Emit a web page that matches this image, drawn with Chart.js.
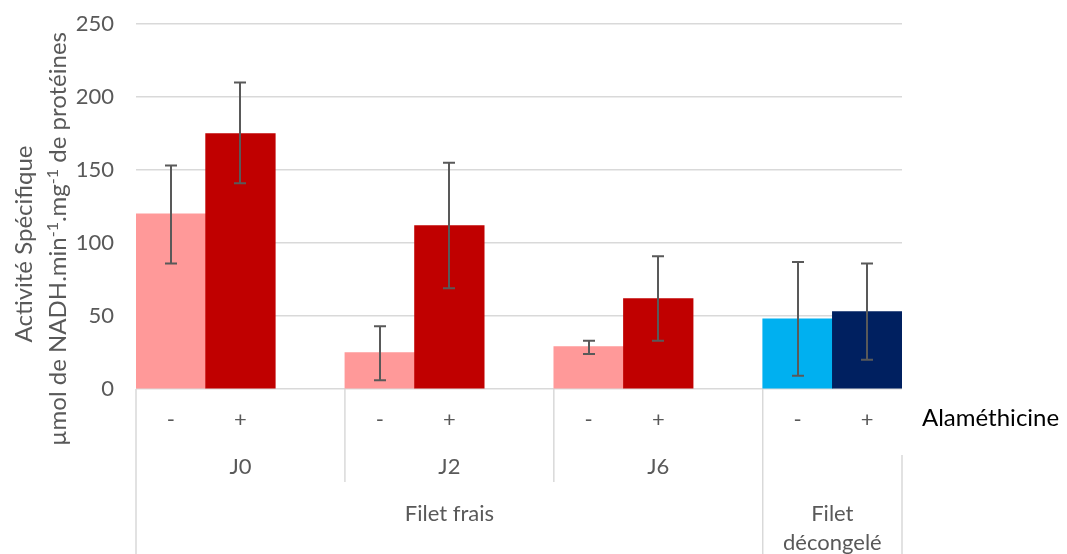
<!DOCTYPE html>
<html>
<head>
<meta charset="utf-8">
<script src="https://cdn.jsdelivr.net/npm/chart.js@4/dist/chart.umd.min.js"></script>
<style>
  html, body { margin: 0; padding: 0; background: #ffffff; }
  #wrap { width: 1067px; height: 554px; position: relative; }
</style>
</head>
<body>
<div id="wrap"><canvas id="c" width="1067" height="554"></canvas></div>
<script>
// ---- data ----
const alamethicine = ['-', '+', '', '-', '+', '', '-', '+', '', '-', '+'];
const activity     = [120, 175, null, 25, 112, null, 29, 62, null, 48, 53];
const errLow       = [86, 141, null, 6, 69, null, 24, 33, null, 9, 20];
const errHigh      = [153, 210, null, 43, 155, null, 33, 91, null, 87, 86];
const barColors    = ['#FF9999', '#C00000', null, '#FF9999', '#C00000', null, '#FF9999', '#C00000', null, '#00B0F0', '#002060'];
const dayLabels    = ['J0', 'J2', 'J6'];
const dayFirstSlot = [0, 3, 6];
const dayLastSlot  = [2, 5, 8];
const fishLabels   = [['Filet frais'], ['Filet', 'décongelé']];
const fishFirstSlot = [0, 9];
const fishLastSlot  = [8, 10];
const yTicks = [0, 50, 100, 150, 200, 250];
const axisTitle1 = 'Activité Spécifique';
const axisTitle2 = [['µmol de NADH.min', false], ['-1', true], ['.mg', false], ['-1', true], [' de protéines', false]];
const sideLabel = 'Alaméthicine';

const FONT = 'Lato, "Open Sans", sans-serif';
const GRAY = '#595959';
const LINE = '#d9d9d9';

Chart.defaults.font.family = FONT;

const overlay = {
  id: 'overlay',
  afterDatasetsDraw(chart) {
    const ctx = chart.ctx;
    const x = chart.scales.x, y = chart.scales.y;
    ctx.save();
    ctx.strokeStyle = GRAY;
    ctx.lineWidth = 2;
    for (let i = 0; i < activity.length; i++) {
      if (activity[i] == null) continue;
      const px = Math.round(x.getPixelForValue(i));
      const yl = y.getPixelForValue(errLow[i]);
      const yh = y.getPixelForValue(errHigh[i]);
      ctx.beginPath();
      ctx.moveTo(px, yl); ctx.lineTo(px, yh);
      ctx.moveTo(px - 6, yl); ctx.lineTo(px + 6, yl);
      ctx.moveTo(px - 6, yh); ctx.lineTo(px + 6, yh);
      ctx.stroke();
    }
    ctx.restore();
  },
  afterDraw(chart) {
    const ctx = chart.ctx;
    const x = chart.scales.x, y = chart.scales.y;
    const half = (x.getPixelForValue(1) - x.getPixelForValue(0)) / 2;
    const base = y.getPixelForValue(0);
    const bottom = chart.height;
    const left = (i) => x.getPixelForValue(i) - half;
    const right = (i) => x.getPixelForValue(i) + half;
    ctx.save();
    // multi-level category separators
    ctx.strokeStyle = LINE;
    ctx.lineWidth = 1.5;
    const vline = (px, y0, y1) => { ctx.beginPath(); ctx.moveTo(px, y0); ctx.lineTo(px, y1); ctx.stroke(); };
    vline(left(0), base, bottom);
    vline(left(dayFirstSlot[1]), base, 482);
    vline(left(dayFirstSlot[2]), base, 482);
    vline(left(fishFirstSlot[1]), base, bottom);
    vline(right(fishLastSlot[1]), 455, bottom);
    // labels
    ctx.fillStyle = GRAY;
    ctx.font = '22px ' + FONT;
    ctx.textAlign = 'center';
    ctx.textBaseline = 'middle';
    dayLabels.forEach((d, k) => {
      const cx = (left(dayFirstSlot[k]) + right(dayLastSlot[k])) / 2;
      ctx.fillText(d, cx, 467);
    });
    fishLabels.forEach((lines, k) => {
      const cx = (left(fishFirstSlot[k]) + right(fishLastSlot[k])) / 2;
      lines.forEach((t, j) => ctx.fillText(t, cx, 514 + j * 29));
    });
    // side label
    ctx.fillStyle = '#000000';
    ctx.font = '24px ' + FONT;
    ctx.textAlign = 'left';
    ctx.fillText(sideLabel, 922, 418);
    // y axis title
    ctx.fillStyle = GRAY;
    ctx.textBaseline = 'alphabetic';
    ctx.save();
    ctx.translate(32, 244);
    ctx.rotate(-Math.PI / 2);
    ctx.font = '24px ' + FONT;
    ctx.textAlign = 'center';
    ctx.fillText(axisTitle1, 0, 0);
    ctx.restore();
    ctx.save();
    ctx.translate(66, 239);
    ctx.rotate(-Math.PI / 2);
    ctx.textAlign = 'left';
    let total = 0;
    axisTitle2.forEach(([t, sup]) => { ctx.font = (sup ? '16px ' : '24px ') + FONT; total += ctx.measureText(t).width; });
    let cx = -total / 2;
    axisTitle2.forEach(([t, sup]) => {
      ctx.font = (sup ? '16px ' : '24px ') + FONT;
      ctx.fillText(t, cx, sup ? -8 : 0);
      cx += ctx.measureText(t).width;
    });
    ctx.restore();
    ctx.restore();
  }
};

new Chart(document.getElementById('c'), {
  type: 'bar',
  data: {
    labels: alamethicine,
    datasets: [{
      data: activity,
      backgroundColor: barColors,
      borderWidth: 0,
      barPercentage: 1,
      categoryPercentage: 1
    }]
  },
  options: {
    responsive: false,
    animation: false,
    devicePixelRatio: 1,
    layout: { padding: { left: 0, right: 165, top: 24, bottom: 0 } },
    plugins: { legend: { display: false }, tooltip: { enabled: false } },
    scales: {
      x: {
        grid: { display: false, drawTicks: false },
        border: { display: false },
        ticks: { color: GRAY, font: { size: 22 }, padding: 18, maxRotation: 0, autoSkip: false },
        afterFit(s) { s.height = 165; }
      },
      y: {
        min: 0, max: 250,
        afterBuildTicks(s) { s.ticks = yTicks.map(v => ({ value: v })); },
        grid: { color: LINE, lineWidth: 1.5, drawTicks: false },
        border: { display: false },
        ticks: { color: GRAY, font: { size: 22 }, padding: 22 },
        afterFit(s) { s.width = 136; s.paddingTop = 0; s.paddingBottom = 0; }
      }
    }
  },
  plugins: [overlay]
});
</script>
</body>
</html>
